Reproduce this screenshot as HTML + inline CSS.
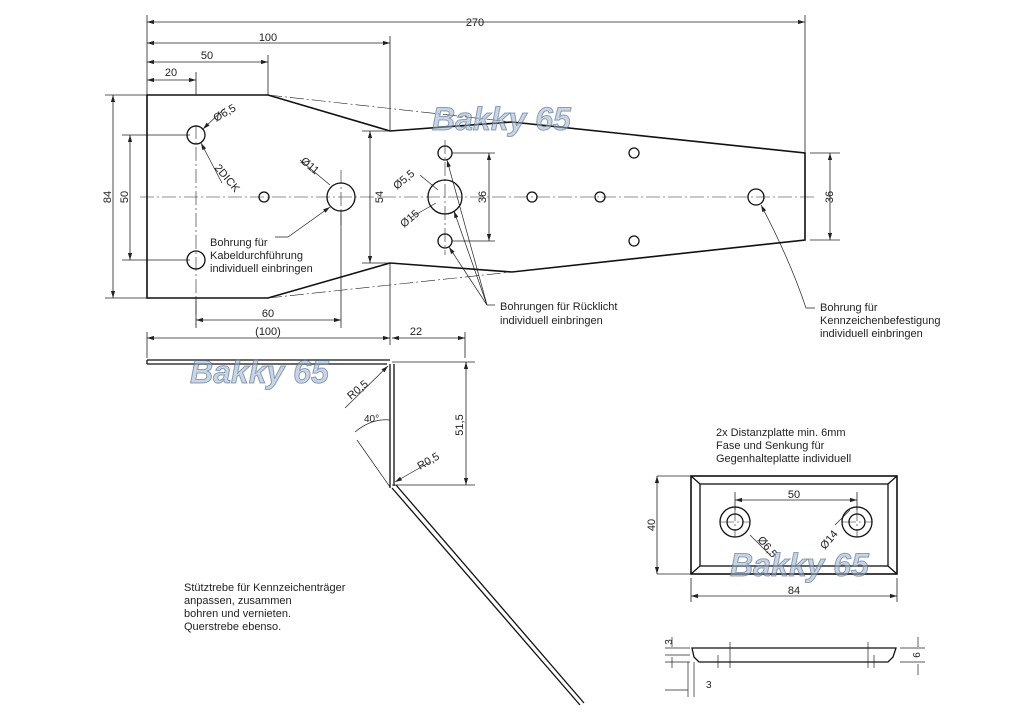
<!DOCTYPE html>
<html><head><meta charset="utf-8"><style>
body{margin:0;background:#fff;}
svg{display:block;font-family:"Liberation Sans",sans-serif;}
text{font-size:11px;fill:#222;}
.wm{font-style:italic;font-weight:bold;font-size:32px;fill:#9fb2cc;fill-opacity:0.55;stroke:#4f6a90;stroke-width:1;stroke-opacity:0.6;}
</style></head><body>
<svg width="1024" height="724" viewBox="0 0 1024 724">
<defs>
<marker id="a" viewBox="0 0 10 10" refX="10" refY="5" markerWidth="9" markerHeight="7" orient="auto-start-reverse" markerUnits="userSpaceOnUse"><path d="M0,2L10,5L0,8z" fill="#222"/></marker>
</defs>
<g stroke="#222" stroke-width="0.8" fill="none">
<path d="M147,15V95M805,15V153M390,36V131M268,55V95M196,72V95M105,95H147M105,298H147M122,135H190M122,260H190M362,131H390M362,263H390M452,153H495M452,241H495M810,153H840M810,240H840M390,263V345M196,298V328M341,211V328M147,332V358M465,332V358M392,362H475M392,485H475M657,476H691M657,574H691M691,578V602M897,578V602M735,492V510M857,492V510"/>
</g>
<g stroke="#222" stroke-width="0.8" marker-start="url(#a)" marker-end="url(#a)">
<line x1="147" y1="22" x2="805" y2="22"/>
<line x1="147" y1="43" x2="390" y2="43"/>
<line x1="147" y1="62" x2="268" y2="62"/>
<line x1="147" y1="80" x2="196" y2="80"/>
<line x1="113" y1="95" x2="113" y2="298"/>
<line x1="130" y1="135" x2="130" y2="260"/>
<line x1="370" y1="131" x2="370" y2="263"/>
<line x1="489" y1="153" x2="489" y2="241"/>
<line x1="830" y1="153" x2="830" y2="240"/>
<line x1="196" y1="320" x2="341" y2="320"/>
<line x1="147" y1="338" x2="390" y2="338"/>
<line x1="392" y1="338" x2="465" y2="338"/>
<line x1="466" y1="362" x2="466" y2="485"/>
<line x1="657" y1="476" x2="657" y2="574"/>
<line x1="691" y1="596" x2="897" y2="596"/>
<line x1="735" y1="500" x2="857" y2="500"/>
</g>
<g stroke="#222" stroke-width="0.7" marker-end="url(#a)" fill="none">
<line x1="225" y1="108" x2="203" y2="129"/>
<line x1="222" y1="183" x2="201" y2="143"/>
<path d="M275,237H288L330,207"/>
<line x1="487" y1="305" x2="447" y2="160"/>
<line x1="487" y1="305" x2="454" y2="211"/>
<line x1="487" y1="305" x2="449" y2="247"/>
<path d="M815,308H806Q790,260 761,205"/>
<line x1="345" y1="408" x2="388" y2="366"/>
<line x1="430" y1="462" x2="395" y2="482"/>
</g>
<g stroke="#222" stroke-width="0.7" fill="none">
<path d="M495,305H487M300,160L330,185M420,175L438,190M410,218L436,203M355,432Q372,418 390,420M750,535L770,555M835,525L850,510M390,487L357,440"/>
</g>
<g stroke-dasharray="14,3,2,3" stroke-width="0.6" stroke="#222" fill="none">
<path d="M140,197H815M196,125V325M341,170V225M445,140V255M268,95L512,122M268,298L512,272M720,522H750M842,522H872M857,507V537M735,507V537"/>
</g>
<path d="M147,95H268L390,131L512,122L805,153V240L512,272L390,263L268,298H147Z" fill="none" stroke="#111" stroke-width="1.6"/>
<g stroke="#111" stroke-width="1.3" fill="none">
<circle cx="196" cy="135" r="9"/><circle cx="196" cy="260" r="9"/>
<circle cx="264" cy="197" r="5"/><circle cx="341" cy="197" r="14"/>
<circle cx="445" cy="197" r="17"/><circle cx="445" cy="153" r="7"/><circle cx="445" cy="241" r="7"/>
<circle cx="532" cy="197" r="5"/><circle cx="600" cy="197" r="5"/>
<circle cx="634" cy="153" r="5"/><circle cx="634" cy="241" r="5"/><circle cx="756" cy="197" r="8"/>
<path d="M147,360H390M147,364H387M394,364V486M390,364V488M392,488L580,705M396,485L584,703M147,360V364"/>
<rect x="691" y="476" width="206" height="98" stroke-width="1.6"/>
<rect x="700" y="484" width="188" height="82"/>
<path d="M691,476L700,484M897,476L888,484M691,574L700,566M897,574L888,566"/>
<circle cx="735" cy="522" r="15"/><circle cx="735" cy="522" r="8"/>
<circle cx="857" cy="522" r="15"/><circle cx="857" cy="522" r="8"/>
<path d="M692,648H896L893,657L888,662H699L694,657Z"/>
</g>
<g stroke="#222" stroke-width="0.7" fill="none">
<path d="M730,642V668M868,642V668M718,655V668M874,655V668M665,648H690M665,655H690M665,662H690M672,637V647M672,657V668M688,697V662M694,697V662M900,648H925M900,662H925M918,637V647M918,664V675M665,690H688"/>
</g>
<text x="475" y="26" text-anchor="middle">270</text>
<text x="268" y="41" text-anchor="middle">100</text>
<text x="207" y="59" text-anchor="middle">50</text>
<text x="171" y="76" text-anchor="middle">20</text>
<text transform="translate(111,197) rotate(-90)" text-anchor="middle">84</text>
<text transform="translate(128,197) rotate(-90)" text-anchor="middle">50</text>
<text transform="translate(383,197) rotate(-90)" text-anchor="middle">54</text>
<text transform="translate(486,197) rotate(-90)" text-anchor="middle">36</text>
<text transform="translate(833,197) rotate(-90)" text-anchor="middle">36</text>
<text x="268" y="317" text-anchor="middle">60</text>
<text x="268" y="335" text-anchor="middle">(100)</text>
<text x="416" y="335" text-anchor="middle">22</text>
<text transform="translate(463,425) rotate(-90)" text-anchor="middle">51,5</text>
<text transform="translate(216,122) rotate(-30)">Ø6,5</text>
<text transform="translate(214,168) rotate(50)">2DICK</text>
<text transform="translate(300,162) rotate(40)">Ø11</text>
<text transform="translate(397,190) rotate(-40)">Ø5,5</text>
<text transform="translate(404,228) rotate(-40)">Ø15</text>
<text transform="translate(351,400) rotate(-40)">R0,5</text>
<text transform="translate(420,470) rotate(-30)">R0,5</text>
<text x="364" y="422" style="font-size:10px">40°</text>
<text x="210" y="246">Bohrung für</text>
<text x="210" y="259">Kabeldurchführung</text>
<text x="210" y="272">individuell einbringen</text>
<text x="500" y="310">Bohrungen für Rücklicht</text>
<text x="500" y="324">individuell einbringen</text>
<text x="820" y="311">Bohrung für</text>
<text x="820" y="324">Kennzeichenbefestigung</text>
<text x="820" y="337">individuell einbringen</text>
<text x="184" y="591">Stütztrebe für Kennzeichenträger</text>
<text x="184" y="604">anpassen, zusammen</text>
<text x="184" y="617">bohren und vernieten.</text>
<text x="184" y="630">Querstrebe ebenso.</text>
<text x="716" y="436">2x Distanzplatte min. 6mm</text>
<text x="716" y="449">Fase und Senkung für</text>
<text x="716" y="462">Gegenhalteplatte individuell</text>
<text x="794" y="498" text-anchor="middle">50</text>
<text transform="translate(655,525) rotate(-90)" text-anchor="middle">40</text>
<text x="794" y="594" text-anchor="middle">84</text>
<text transform="translate(757,540) rotate(50)">Ø6,5</text>
<text transform="translate(825,550) rotate(-50)">Ø14</text>
<text transform="translate(672,642) rotate(-90)" text-anchor="middle" style="font-size:10px">3</text>
<text transform="translate(920,655) rotate(-90)" text-anchor="middle" style="font-size:10px">6</text>
<text x="706" y="688" style="font-size:10px">3</text>
<text class="wm" x="432" y="130">Bakky 65</text>
<text class="wm" x="190" y="383">Bakky 65</text>
<text class="wm" x="730" y="576">Bakky 65</text>
</svg>
</body></html>
